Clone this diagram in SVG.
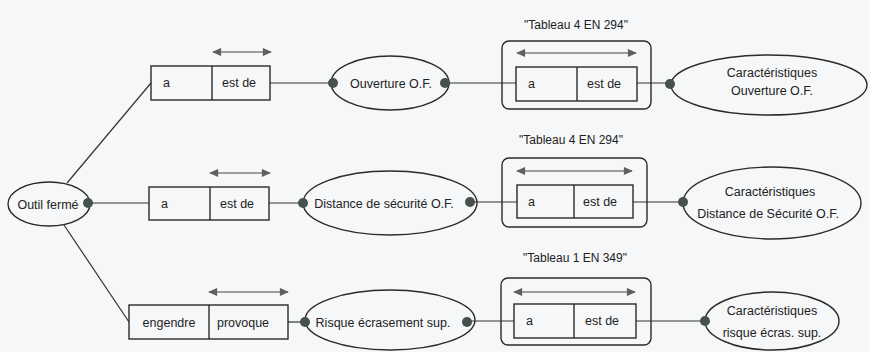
<svg xmlns="http://www.w3.org/2000/svg" width="870" height="352" viewBox="0 0 870 352">
<defs>
<style>
.bg{fill:#f6f7f8}
.sh{fill:none;stroke:#2a2a2a;stroke-width:1.4}
.ln{fill:none;stroke:#333;stroke-width:1.2}
.dbl{fill:none;stroke:#444;stroke-width:1.2;marker-start:url(#ah);marker-end:url(#ah)}
.dot{fill:#45514c}
text{font-family:"Liberation Sans",Arial,sans-serif;font-size:12.5px;fill:#222}
.c{text-anchor:middle}
.t{font-size:12px}
</style>
<marker id="ah" viewBox="0 0 10 10" refX="9" refY="5" markerWidth="11" markerHeight="9" markerUnits="userSpaceOnUse" orient="auto-start-reverse">
<path d="M0,0.5 L10,5 L0,9.5 Z" fill="#5f5f5f"/>
</marker>
</defs>
<rect class="bg" x="0" y="0" width="870" height="352"/>

<g id="connectors">
<line class="ln" x1="67" y1="183" x2="151" y2="83"/>
<line class="ln" x1="88" y1="203" x2="149" y2="203"/>
<line class="ln" x1="64" y1="225" x2="129" y2="322"/>
<line class="ln" x1="270" y1="83" x2="333" y2="83"/>
<line class="ln" x1="269" y1="203" x2="303" y2="203"/>
<line class="ln" x1="288" y1="322" x2="305" y2="322"/>
<line class="ln" x1="445" y1="83" x2="516" y2="83"/>
<line class="ln" x1="470" y1="202" x2="517" y2="202"/>
<line class="ln" x1="468" y1="321" x2="514" y2="321"/>
<line class="ln" x1="637" y1="83" x2="670" y2="83"/>
<line class="ln" x1="633" y1="202" x2="683" y2="202"/>
<line class="ln" x1="636" y1="321" x2="705" y2="321"/>
</g>

<g id="outil-ferme">
<ellipse class="sh" cx="49" cy="204" rx="41" ry="22"/>
<text class="c" x="48" y="208.5">Outil fermé</text>
<circle class="dot" cx="88" cy="203" r="5"/>
</g>

<g id="rel-1">
<line class="dbl" x1="213" y1="52" x2="271" y2="52"/>
<rect class="sh" x="151" y="66" width="119" height="34"/>
<line class="sh" x1="212" y1="66" x2="212" y2="100"/>
<text x="163" y="87">a</text>
<text x="222" y="87">est de</text>
</g>

<g id="rel-2">
<line class="dbl" x1="210" y1="173" x2="270" y2="173"/>
<rect class="sh" x="149" y="187" width="120" height="33"/>
<line class="sh" x1="210" y1="187" x2="210" y2="220"/>
<text x="161" y="207.5">a</text>
<text x="220" y="207.5">est de</text>
</g>

<g id="rel-3">
<line class="dbl" x1="209" y1="292" x2="288" y2="292"/>
<rect class="sh" x="129" y="305" width="159" height="34"/>
<line class="sh" x1="209" y1="305" x2="209" y2="339"/>
<text class="c" x="169" y="326.5">engendre</text>
<text class="c" x="243" y="326.5">provoque</text>
</g>

<g id="ouverture">
<ellipse class="sh" cx="390" cy="83" rx="59" ry="27"/>
<text class="c" x="391" y="87.5">Ouverture O.F.</text>
<circle class="dot" cx="333" cy="83" r="5"/>
<circle class="dot" cx="445" cy="83" r="5"/>
</g>

<g id="distance">
<ellipse class="sh" cx="390" cy="203" rx="87" ry="32"/>
<text class="c" x="384" y="207.5">Distance de sécurité O.F.</text>
<circle class="dot" cx="303" cy="203" r="5"/>
<circle class="dot" cx="470" cy="202" r="5"/>
</g>

<g id="risque">
<ellipse class="sh" cx="390" cy="320" rx="85" ry="30"/>
<text class="c" x="383" y="326.5">Risque écrasement sup.</text>
<circle class="dot" cx="305" cy="322" r="5"/>
<circle class="dot" cx="467" cy="322" r="5"/>
</g>

<g id="tableau-1">
<text class="c t" x="576" y="29">"Tableau 4 EN 294"</text>
<rect class="sh" x="502" y="41" width="149" height="68" rx="7"/>
<line class="dbl" x1="517" y1="53" x2="636" y2="53"/>
<rect class="sh" x="516" y="67" width="121" height="34"/>
<line class="sh" x1="577" y1="67" x2="577" y2="101"/>
<text x="528" y="88">a</text>
<text x="587" y="88">est de</text>
</g>

<g id="tableau-2">
<text class="c t" x="571" y="144">"Tableau 4 EN 294"</text>
<rect class="sh" x="502" y="158" width="145" height="69" rx="7"/>
<line class="dbl" x1="517" y1="171" x2="632" y2="171"/>
<rect class="sh" x="517" y="185" width="116" height="33"/>
<line class="sh" x1="574" y1="185" x2="574" y2="218"/>
<text x="528" y="206">a</text>
<text x="583" y="206">est de</text>
</g>

<g id="tableau-3">
<text class="c t" x="575" y="262">"Tableau 1 EN 349"</text>
<rect class="sh" x="501" y="278" width="150" height="67" rx="7"/>
<line class="dbl" x1="514" y1="292" x2="635" y2="292"/>
<rect class="sh" x="514" y="304" width="122" height="34"/>
<line class="sh" x1="574" y1="304" x2="574" y2="338"/>
<text x="526" y="325">a</text>
<text x="585" y="325">est de</text>
</g>

<g id="carac-1">
<ellipse class="sh" cx="769" cy="85" rx="98" ry="30"/>
<text class="c" x="772" y="77">Caractéristiques</text>
<text class="c" x="772" y="95">Ouverture O.F.</text>
<circle class="dot" cx="670" cy="84" r="5"/>
</g>

<g id="carac-2">
<ellipse class="sh" cx="772" cy="203" rx="89" ry="36"/>
<text class="c" x="770" y="196">Caractéristiques</text>
<text class="c" x="768" y="218">Distance de Sécurité O.F.</text>
<circle class="dot" cx="683" cy="202" r="5"/>
</g>

<g id="carac-3">
<ellipse class="sh" cx="772" cy="321" rx="67" ry="29"/>
<text class="c" x="772" y="315">Caractéristiques</text>
<text class="c" x="772" y="337">risque écras. sup.</text>
<circle class="dot" cx="705" cy="321" r="5"/>
</g>
</svg>
